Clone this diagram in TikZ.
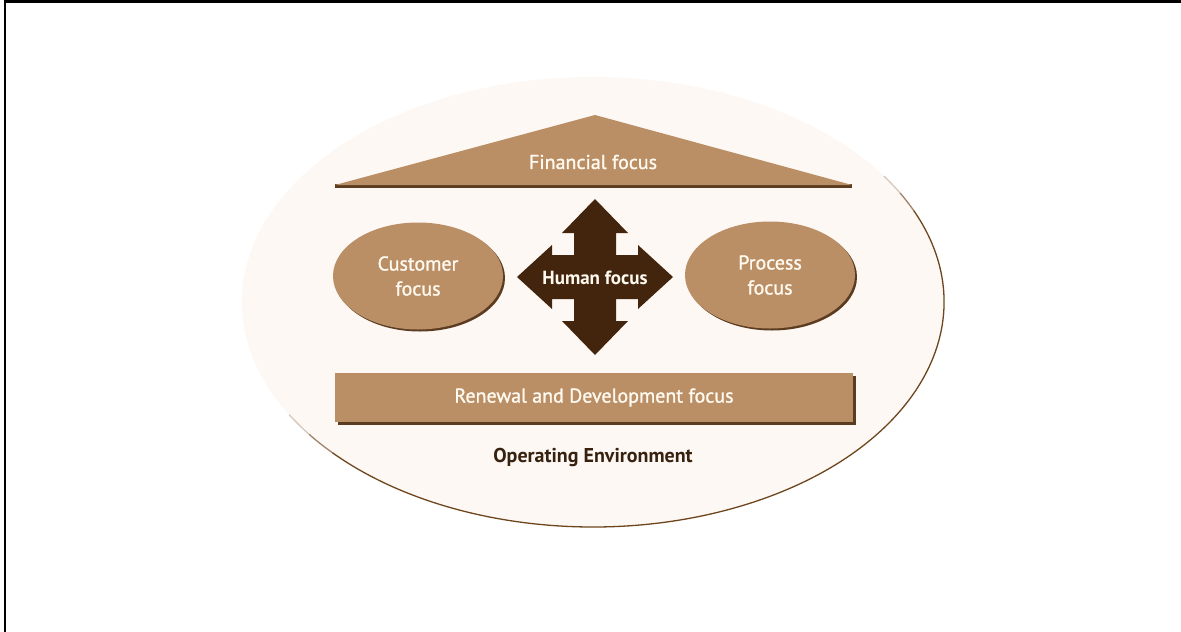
\documentclass[tikz,border=0pt]{standalone}
\usepackage{fontspec}
\setmainfont{PT Sans}
\newfontfamily\labfont[FakeBold=1.2]{PT Sans}
\usetikzlibrary{shapes.geometric,shadows}
\definecolor{bfill}{RGB}{187,143,102}
\definecolor{bdark}{RGB}{67,37,13}
\definecolor{bshadow}{RGB}{92,60,32}
\definecolor{envfill}{RGB}{253,248,244}
\definecolor{envline}{RGB}{110,70,30}
\definecolor{envmid}{RGB}{160,130,105}
\definecolor{envlight}{RGB}{215,200,188}
\definecolor{labtext}{RGB}{255,250,240}
\definecolor{envtext}{RGB}{55,33,15}
\tikzset{
  shapelabel/.style={text=labtext, font=\labfont\fontsize{20}{25}\selectfont, align=center, inner sep=0pt},
  focusoval/.style={ellipse, fill=bfill, minimum width=170pt, minimum height=107pt, inner sep=0pt,
    drop shadow={shadow xshift=2pt, shadow yshift=-2pt, fill=bshadow, opacity=1}},
  focusbar/.style={rectangle, fill=bfill, minimum width=518pt, minimum height=49pt, inner sep=0pt,
    drop shadow={shadow xshift=2.5pt, shadow yshift=-2.5pt, fill=bshadow, opacity=1}},
  envarc/.style={line width=1.3pt},
}
\begin{document}
\begin{tikzpicture}[x=1pt,y=-1pt]
\useasboundingbox (0,0) rectangle (1181,632);
\fill[white] (0,0) rectangle (1181,632);
\draw[line width=2.5pt] (5,632) -- (5,1.25) -- (1181,1.25);
% operating environment ellipse
\fill[envfill] (593,302) ellipse[x radius=351, y radius=225];
\draw[envarc, envlight] ([shift={(-34:351 and 225)}]593,302) arc[start angle=-34, end angle=-29, x radius=351, y radius=225];
\draw[envarc, envmid] ([shift={(-29:351 and 225)}]593,302) arc[start angle=-29, end angle=-24, x radius=351, y radius=225];
\draw[envarc, envline] ([shift={(-24:351 and 225)}]593,302) arc[start angle=-24, end angle=138, x radius=351, y radius=225];
\draw[envarc, envmid] ([shift={(138:351 and 225)}]593,302) arc[start angle=138, end angle=144, x radius=351, y radius=225];
\draw[envarc, envlight] ([shift={(144:351 and 225)}]593,302) arc[start angle=144, end angle=150, x radius=351, y radius=225];
% roof
\fill[bshadow] (335,187.5) -- (852,187.5) -- (852,184) -- (335,184) -- cycle;
\fill[bfill] (335,185) -- (595,115) -- (852,185) -- cycle;
\node[shapelabel] (fin) at (593,162) {Financial focus};
% ovals
\node[focusoval] (cust) at (418,276) {};
\node[shapelabel] (custt) at (418,276) {Customer\\focus};
\node[focusoval] (proc) at (770,275) {};
\node[shapelabel] (proct) at (770,275) {Process\\focus};
% cross arrow
\begin{scope}[shift={(595,277)}]
\fill[bdark] (0,-78) -- (33,-44) -- (21,-44) -- (21,-22) -- (43,-22) -- (43,-32) -- (78,0)
  -- (43,32) -- (43,22) -- (21,22) -- (21,44) -- (33,44) -- (0,78) -- (-33,44) -- (-21,44)
  -- (-21,22) -- (-43,22) -- (-43,32) -- (-78,0) -- (-43,-32) -- (-43,-22) -- (-21,-22)
  -- (-21,-44) -- (-33,-44) -- cycle;
\end{scope}
\node[text=labtext, font=\bfseries\fontsize{19}{23}\selectfont, inner sep=0pt] (human) at (595,278) {Human focus};
% renewal bar
\node[focusbar] (ren) at (594,397.5) {};
\node[shapelabel] (rent) at (594,397.5) {Renewal and Development focus};
% operating environment label
\node[text=envtext, font=\bfseries\fontsize{20}{24}\selectfont, inner sep=0pt] (env) at (593,457) {Operating Environment};
\end{tikzpicture}
\end{document}
